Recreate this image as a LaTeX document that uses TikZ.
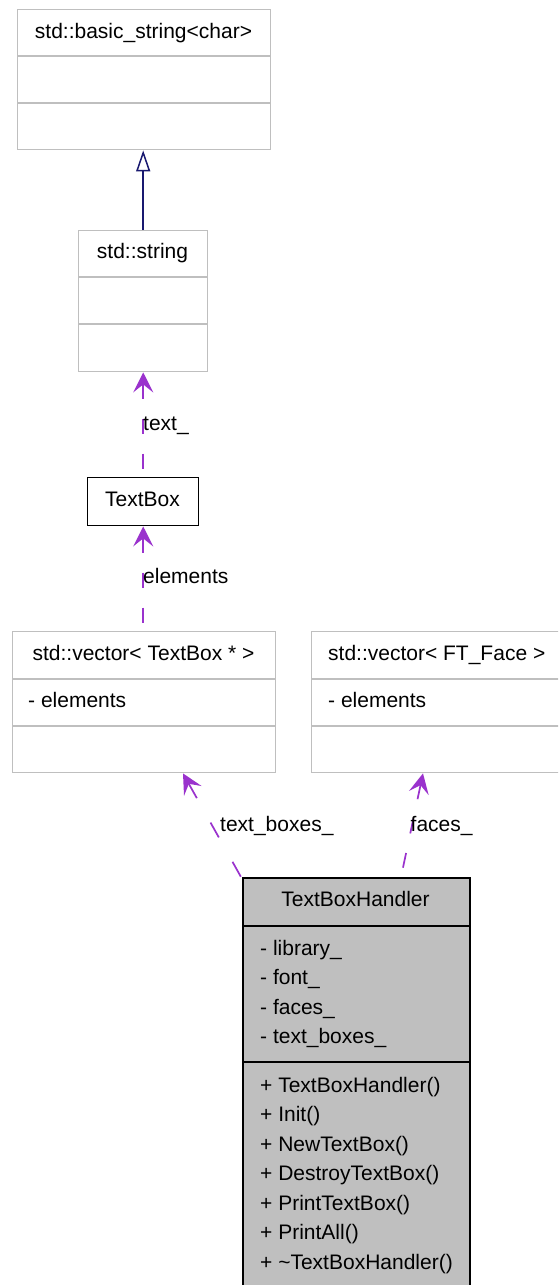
\documentclass[tikz,border=0pt]{standalone}
\usepackage{fontspec}
\setmainfont{Liberation Sans}
\usetikzlibrary{arrows.meta}

\definecolor{boxgray}{HTML}{BFBFBF}
\definecolor{assoccol}{HTML}{9A32CD}
\definecolor{inheritcol}{HTML}{191970}

\begin{document}
\begin{tikzpicture}[x=1pt,y=-1pt,
  font=\fontsize{21pt}{25pt}\selectfont,
  umlbox/.style={draw=boxgray, line width=1.4pt, fill=white, inner sep=0pt, anchor=north west},
  focusbox/.style={draw=black, line width=1.6pt, fill=boxgray, inner sep=0pt, anchor=north west},
  plainbox/.style={draw=black, line width=1.4pt, fill=white, inner sep=0pt, anchor=north west},
  divider/.style={draw=boxgray, line width=1.4pt},
  focusdivider/.style={draw=black, line width=1.6pt},
  title/.style={anchor=base, inner sep=0pt},
  member/.style={anchor=base west, inner sep=0pt},
  edgelabel/.style={anchor=base west, inner sep=0pt},
  usage/.style={draw=assoccol, line width=1.7pt, dash pattern=on 15pt off 20pt,
    {Stealth[length=20pt, width=20pt, inset=8pt]}-},
  inherit/.style={draw=inheritcol, line width=1.5pt,
    {Triangle[open, length=21pt, width=14pt]}-}
]
\useasboundingbox (0,0) rectangle (558,1285);
\clip (0,0) rectangle (558,1285);
\fill[white] (0,0) rectangle (558,1285);

% std::basic_string<char>
\node[umlbox, minimum width=253pt, minimum height=140pt] (bs) at (17,9) {};
\draw[divider] ([yshift=-47pt]bs.north west) -- ([yshift=-47pt]bs.north east);
\draw[divider] ([yshift=-94pt]bs.north west) -- ([yshift=-94pt]bs.north east);
\node[title] (bsT) at (143.5,38) {std::basic\_string<char>};

% std::string
\node[umlbox, minimum width=129pt, minimum height=141pt] (str) at (78,230) {};
\draw[divider] ([yshift=-47pt]str.north west) -- ([yshift=-47pt]str.north east);
\draw[divider] ([yshift=-94pt]str.north west) -- ([yshift=-94pt]str.north east);
\node[title] (strT) at (142.5,258) {std::string};

% TextBox
\node[plainbox, minimum width=111pt, minimum height=48pt] (tb) at (87,477) {};
\node[title] (tbT) at (142.5,506) {TextBox};

% std::vector< TextBox * >
\node[umlbox, minimum width=263pt, minimum height=141pt] (vtb) at (12,631) {};
\draw[divider] ([yshift=-48pt]vtb.north west) -- ([yshift=-48pt]vtb.north east);
\draw[divider] ([yshift=-95pt]vtb.north west) -- ([yshift=-95pt]vtb.north east);
\node[title] (vtbT) at (143.5,660) {std::vector< TextBox * >};
\node[member] (vtbA) at (28,707) {- elements};

% std::vector< FT_Face >
\node[umlbox, minimum width=252pt, minimum height=141pt] (vft) at (311,631) {};
\draw[divider] ([yshift=-48pt]vft.north west) -- ([yshift=-48pt]vft.north east);
\draw[divider] ([yshift=-95pt]vft.north west) -- ([yshift=-95pt]vft.north east);
\node[member] (vftT) at (328,660) {std::vector< FT\_Face >};
\node[member] (vftA) at (328,707) {- elements};

% TextBoxHandler
\node[focusbox, minimum width=227pt, minimum height=440pt] (tbh) at (242,877) {};
\draw[focusdivider] ([yshift=-49pt]tbh.north west) -- ([yshift=-49pt]tbh.north east);
\draw[focusdivider] ([yshift=-185pt]tbh.north west) -- ([yshift=-185pt]tbh.north east);
\node[title] (tbhT) at (355.5,906) {TextBoxHandler};
\foreach \txt [count=\i] in {library\_, font\_, faces\_, text\_boxes\_}
  \node[member] (attr\i) at (260,{955+29.5*(\i-1)}) {- \txt};
\foreach \txt [count=\i] in {TextBoxHandler(), Init(), NewTextBox(), DestroyTextBox(),
    PrintTextBox(), PrintAll(), \textasciitilde TextBoxHandler()}
  \node[member] (op\i) at (260,{1092+29.5*(\i-1)}) {+ \txt};

% generalisation
\draw[inherit] (str.north |- bs.south) -- (str.north);

% usage relations (arrow tip at the used class)
\draw[usage] (str.south) -- (tb.north);
\node[edgelabel] (lText) at (143,430) {text\_};

\draw[usage] (tb.south) -- (tb.south |- vtb.north);
\node[edgelabel] (lElem) at (143,583) {elements};

\draw[usage, dash pattern=on 17pt off 28pt]
  ([xshift=171pt]vtb.south west) -- ([xshift=-1pt]tbh.north west);
\node[edgelabel] (lBoxes) at (220,831) {text\_boxes\_};

\draw[usage] ([xshift=112pt]vft.south west) -- ([xshift=159pt]tbh.north west);
\node[edgelabel] (lFaces) at (410.5,831) {faces\_};
\end{tikzpicture}
\end{document}
